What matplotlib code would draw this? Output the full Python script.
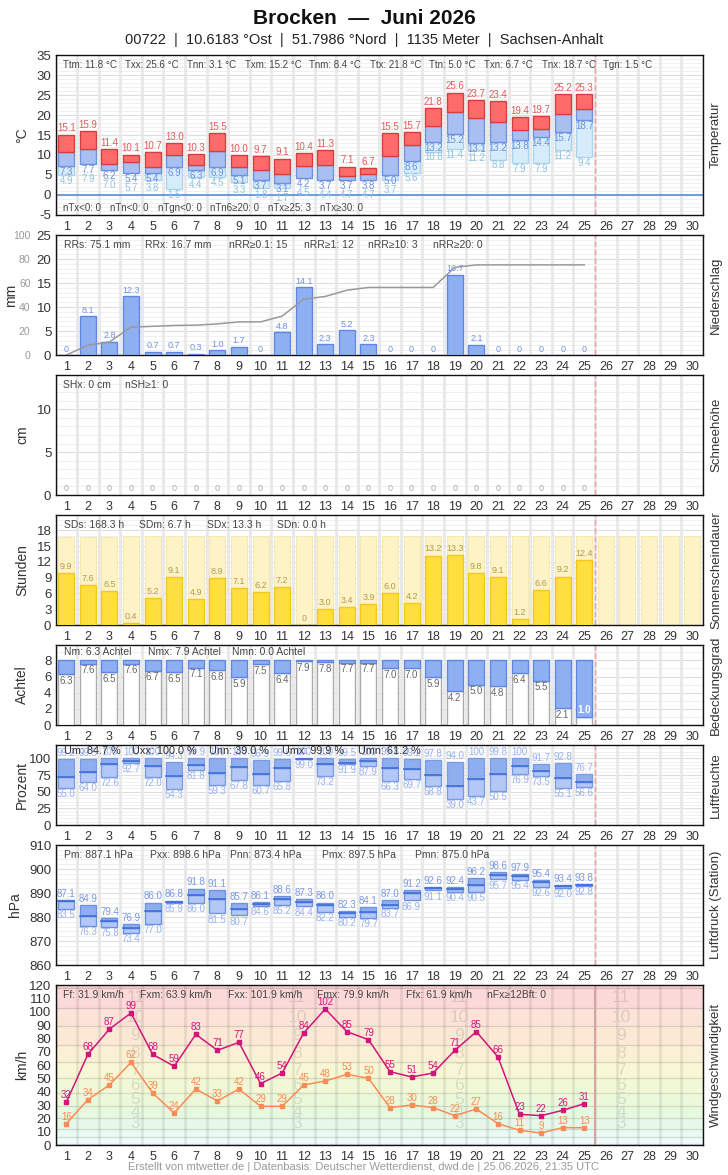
import numpy as np
import matplotlib
matplotlib.use("Agg")
import matplotlib.pyplot as plt
from matplotlib.colors import to_rgb

plt.rcParams['font.family'] = ['Liberation Sans', 'DejaVu Sans']
plt.rcParams['axes.unicode_minus'] = False

# ---------------- data ----------------
days = list(range(1, 26))
all_days = list(range(1, 31))

t_max = [15.1, 15.9, 11.4, 10.1, 10.7, 13.0, 10.3, 15.5, 10.0, 9.7, 9.1, 10.4, 11.3, 7.1, 6.7,
         15.5, 15.7, 21.8, 25.6, 23.7, 23.4, 19.4, 19.7, 25.2, 25.3]
t_mean = [10.8, 11.6, 7.8, 8.3, 7.1, 10.1, 7.5, 11.1, 6.9, 6.2, 5.2, 7.3, 7.6, 4.8, 5.3,
          9.8, 12.4, 17.3, 20.8, 19.3, 18.3, 16.3, 16.6, 20.3, 21.6]
t_min = [7.3, 7.7, 6.2, 5.4, 5.4, 6.9, 6.3, 6.9, 5.1, 3.7, 3.1, 4.2, 3.7, 3.7, 3.8,
         5.0, 8.6, 13.2, 15.2, 13.1, 13.2, 13.8, 14.4, 15.7, 18.7]
t_ground = [4.9, 7.9, 7.0, 5.7, 3.8, 1.5, 4.4, 4.5, 3.3, 1.8, 1.7, 4.5, 4.4, 4.7, 4.7,
            3.7, 5.6, 10.8, 11.4, 11.2, 8.8, 7.9, 7.9, 11.2, 9.4]

precip = [0, 8.1, 2.8, 12.3, 0.7, 0.7, 0.3, 1.0, 1.7, 0, 4.8, 14.1, 2.3, 5.2, 2.3,
          0, 0, 0, 16.7, 2.1, 0, 0, 0, 0, 0]
snow = [0] * 25
sun = [9.9, 7.6, 6.5, 0.4, 5.2, 9.1, 4.9, 8.9, 7.1, 6.2, 7.2, 0, 3.0, 3.4, 3.9,
       6.0, 4.2, 13.2, 13.3, 9.8, 9.1, 1.2, 6.6, 9.2, 12.4]
sun_possible = [16.8, 16.8, 16.8, 16.9, 16.9, 16.9, 16.9, 16.9, 16.9, 16.9, 16.9, 16.9, 16.9, 16.9, 16.9,
                16.9, 16.9, 16.9, 16.9, 16.9, 16.9, 16.9, 16.9, 16.9, 16.9, 16.9, 16.9, 16.9, 16.9, 16.9]
cloud = [6.3, 7.6, 6.5, 7.6, 6.7, 6.5, 7.1, 6.8, 5.9, 7.5, 6.4, 7.9, 7.8, 7.7, 7.7,
         7.0, 7.0, 5.9, 4.2, 5.0, 4.8, 6.4, 5.5, 2.1, 1.0]
hum_max = [99.2, 99.5, 100, 100, 100, 94.3, 99.9, 100, 100, 96.9, 99.6, 100, 100, 99.5, 100,
           99.8, 99.2, 97.8, 94.0, 100, 99.8, 100, 91.7, 92.8, 76.7]
hum_mean = [71.4, 79.0, 90.8, 96.4, 88.8, 73.5, 90.3, 78.0, 87.2, 76.5, 85.7, 99.5, 91.8, 93.4, 96.4,
            85.7, 83.7, 75.0, 58.2, 68.9, 76.5, 88.8, 80.6, 70.4, 64.3]
hum_min = [55.0, 64.0, 72.6, 92.7, 72.0, 54.3, 81.8, 59.3, 67.8, 60.7, 65.8, 99.0, 73.2, 91.9, 87.9,
           66.3, 69.7, 58.8, 39.0, 43.7, 50.5, 76.9, 73.5, 55.1, 56.6]
p_max = [887.1, 884.9, 879.4, 876.9, 886.0, 886.8, 891.8, 891.1, 885.7, 886.1, 888.6, 887.3, 886.0, 882.3, 884.1,
         887.0, 891.2, 892.6, 892.4, 896.2, 898.6, 897.9, 895.4, 893.4, 893.8]
p_mean = [886.5, 880.6, 878.2, 875.4, 882.4, 886.3, 889.3, 887.6, 883.2, 885.6, 887.4, 886.2, 884.9, 881.6, 882.2,
          885.1, 890.1, 892.1, 891.5, 893.5, 897.6, 897.2, 894.6, 892.8, 893.4]
p_min = [883.5, 876.3, 875.8, 873.4, 877.0, 885.9, 886.0, 881.5, 880.7, 884.6, 885.2, 884.4, 882.2, 880.2, 879.7,
         883.7, 886.9, 891.1, 890.4, 890.5, 895.7, 895.4, 892.6, 892.0, 892.8]
wind_gust = [32, 68, 87, 99, 68, 59, 83, 71, 77, 46, 54, 84, 102, 85, 79, 55, 51, 54, 71, 85, 66, 23, 22, 26, 31]
wind_mean = [16, 34, 45, 62, 39, 24, 42, 33, 42, 29, 29, 45, 48, 53, 50, 28, 30, 28, 22, 27, 16, 11, 9, 13, 13]

bft_bounds = [0, 1, 6, 12, 20, 29, 39, 50, 62, 75, 89, 103, 118, 120]
bft_colors = ['#f2fbfd', '#eefafb', '#e9f9f3', '#e6f8ea', '#e6f8e0', '#ebf8d9', '#f1f8d7', '#f7f6d5',
              '#faf0d5', '#fbe9d6', '#fbe3d8', '#fad9d8', '#f8cfcf']

# ---------------- layout ----------------
W, H = 728, 1175
fig = plt.figure(figsize=(W / 100, H / 100), dpi=100)
fig.patch.set_facecolor('white')
XL, XR = 55.5, 703

def fx(x):
    return x / W

def fy(y):
    return 1 - y / H

def make_ax(top, bottom):
    ax = fig.add_axes([fx(XL), fy(bottom), (XR - XL) / W, (bottom - top) / H])
    ax.set_xlim(0.5, 30.5)
    ax.set_xticks(all_days)
    ax.set_xticklabels([str(d) for d in all_days], fontsize=9, color='#333333')
    ax.tick_params(axis='both', length=0, pad=4)
    ax.tick_params(axis='y', labelsize=9.5, labelcolor='#333333', pad=3)
    for s in ax.spines.values():
        s.set_color('#111111')
        s.set_linewidth(1.0)
    ax.set_axisbelow(True)
    return ax

def vgrid(ax, color='#e8e8e8', lw=2.0):
    for b in np.arange(0.5, 31, 1):
        ax.axvline(b, color=color, lw=lw, zorder=0)

def hgrid(ax, major, minor):
    for v in minor:
        ax.axhline(v, color='#f0f0f0', lw=0.7, zorder=0)
    for v in major:
        ax.axhline(v, color='#dddddd', lw=0.8, zorder=0)

def red_line(ax, solid=False):
    if solid:
        ax.axvline(25.5, color='#d9a3a3', lw=1.5, zorder=1)
    else:
        ax.axvline(25.5, color='#f0a0a0', lw=1.0, ls=(0, (4, 2)), zorder=1)

def stat(x, y, s, fs=7.5, color='#444444'):
    fig.text(fx(x), fy(y), s, fontsize=fs, color=color, va='center', ha='left')

def ylab(x, top, bottom, s):
    fig.text(fx(x), fy((top + bottom) / 2), s, rotation=90, fontsize=10, color='#333333',
             ha='center', va='center')

def rlab(top, bottom, s):
    fig.text(fx(716), fy((top + bottom) / 2), s, rotation=90, fontsize=9.5, color='#333333',
             ha='center', va='center')

BW = 0.74

# ---------------- title ----------------
fig.text(0.5, fy(18), 'Brocken  —  Juni 2026', fontsize=15, fontweight='bold', ha='center', va='center', color='#111111')
fig.text(0.5, fy(40), '00722  |  10.6183 °Ost  |  51.7986 °Nord  |  1135 Meter  |  Sachsen-Anhalt',
         fontsize=10.5, ha='center', va='center', color='#222222')

# ---------------- Temperatur ----------------
top, bot = 55, 215
ax = make_ax(top, bot)
ax.set_ylim(-5, 35)
ax.set_yticks(range(-5, 36, 5))
hgrid(ax, range(-5, 36, 5), np.arange(-5, 35, 1))
vgrid(ax)
red_line(ax)
ax.axhline(0, color='#5b8fd9', lw=1.2, zorder=1)
for d, tx, tm, tn, tg in zip(days, t_max, t_mean, t_min, t_ground):
    if tg < tn:
        ax.bar(d, tn - tg, bottom=tg, width=BW, color='#d6ecf8', edgecolor='#a9d5f0', lw=1, zorder=2)
    ax.bar(d, tm - tn, bottom=tn, width=BW, color='#a9bff2', edgecolor='#6d92e2', lw=1, zorder=3)
    ax.bar(d, tx - tm, bottom=tm, width=BW, color='#ff6b6b', edgecolor='#d33f3f', lw=1, zorder=3)
    ax.text(d, tx + 0.3, f'{tx:.1f}', ha='center', va='bottom', fontsize=7, color='#e05a5a', zorder=5)
    yb = tn - 1.5
    ax.text(d, yb, f'{tn:.1f}', ha='center', va='center', fontsize=7, color='#6f8fe0', zorder=5)
    yl = min(tg - 1.4, yb - 2.25)
    ax.text(d, yl, f'{tg:.1f}', ha='center', va='center', fontsize=7, color='#8cc4e6', zorder=5)
ylab(22, top, bot, '°C')
rlab(top, bot, 'Temperatur')
for x, s in [(63, 'Ttm: 11.8 °C'), (125, 'Txx: 25.6 °C'), (187, 'Tnn: 3.1 °C'), (245, 'Txm: 15.2 °C'),
             (309, 'Tnm: 8.4 °C'), (370, 'Ttx: 21.8 °C'), (429, 'Ttn: 5.0 °C'), (484, 'Txn: 6.7 °C'),
             (542, 'Tnx: 18.7 °C'), (603, 'Tgn: 1.5 °C')]:
    stat(x, 65, s, fs=7)
for x, s in [(63, 'nTx<0: 0'), (110, 'nTn<0: 0'), (158, 'nTgn<0: 0'), (210, 'nTn6≥20: 0'),
             (268, 'nTx≥25: 3'), (320, 'nTx≥30: 0')]:
    stat(x, 208, s, fs=7)

# ---------------- Niederschlag ----------------
top, bot = 235, 355
ax = make_ax(top, bot)
ax.set_ylim(0, 25)
ax.set_yticks(range(0, 26, 5))
hgrid(ax, range(0, 26, 5), np.arange(0, 25, 1))
vgrid(ax)
red_line(ax)
ax.bar(days, precip, width=BW, color='#8eb0f2', edgecolor='#5f86e3', lw=1, zorder=3)
for d, v in zip(days, precip):
    s = '0' if v == 0 else f'{v:.1f}'
    ax.text(d, v + 0.3, s, ha='center', va='bottom', fontsize=6.5, color='#7092e3', zorder=5)
ax2 = ax.twinx()
ax2.set_ylim(0, 100)
ax2.yaxis.set_ticks_position('left')
ax2.spines['left'].set_position(('outward', 18))
for s in ax2.spines.values():
    s.set_visible(False)
ax2.set_yticks(range(0, 101, 20))
ax2.tick_params(axis='y', length=0, labelsize=7.5, labelcolor='#999999', pad=0)
ax2.plot(days, np.cumsum(precip), color='#999999', lw=1.1, zorder=4)
ylab(11, top, bot, 'mm')
rlab(top, bot, 'Niederschlag')
for x, s in [(64, 'RRs: 75.1 mm'), (145, 'RRx: 16.7 mm'), (229, 'nRR≥0.1: 15'), (304, 'nRR≥1: 12'),
             (368, 'nRR≥10: 3'), (433, 'nRR≥20: 0')]:
    stat(x, 245, s)

# ---------------- Schneehöhe ----------------
top, bot = 375, 495
ax = make_ax(top, bot)
ax.set_ylim(0, 14)
ax.set_yticks([0, 5, 10])
hgrid(ax, [0, 5, 10], np.arange(0, 14, 1))
vgrid(ax)
red_line(ax)
for d, v in zip(days, snow):
    ax.text(d, v + 0.2, f'{v:d}', ha='center', va='bottom', fontsize=6.5, color='#aaaaaa', zorder=5)
ylab(22, top, bot, 'cm')
rlab(top, bot, 'Schneehöhe')
stat(63, 385, 'SHx: 0 cm')
stat(125, 385, 'nSH≥1: 0')

# ---------------- Sonnenscheindauer ----------------
top, bot = 515, 625
ax = make_ax(top, bot)
ax.set_ylim(0, 20.9)
ax.set_yticks(range(0, 19, 3))
hgrid(ax, range(0, 19, 3), np.arange(0, 21, 1))
vgrid(ax)
ax.bar(all_days, sun_possible, width=BW, color='#fdf3c6', edgecolor='#f8e9b0', lw=0.8, zorder=2)
red_line(ax)
ax.bar(days, sun, width=BW, color='#ffdf3d', edgecolor='#f2c81c', lw=1, zorder=3)
for d, v in zip(days, sun):
    s = '0' if v == 0 else f'{v:.1f}'
    ax.text(d, v + 0.4, s, ha='center', va='bottom', fontsize=6.5, color='#b59a4a', zorder=5)
ylab(22, top, bot, 'Stunden')
rlab(top, bot, 'Sonnenscheindauer')
for x, s in [(64, 'SDs: 168.3 h'), (139, 'SDm: 6.7 h'), (207, 'SDx: 13.3 h'), (277, 'SDn: 0.0 h')]:
    stat(x, 525, s)

# ---------------- Bedeckungsgrad ----------------
top, bot = 645, 725
ax = make_ax(top, bot)
ax.set_ylim(0, 9.9)
ax.set_yticks(range(0, 9, 2))
hgrid(ax, range(0, 9, 2), np.arange(0, 10, 1))
vgrid(ax)
red_line(ax)
for d, n in zip(days, cloud):
    ax.bar(d, n, width=BW, color='white', edgecolor='#aaaaaa', lw=1, zorder=3)
    ax.bar(d, 8 - n, bottom=n, width=BW, color='#8eb0f2', edgecolor='#5f86e3', lw=1, zorder=3)
    if n < 1.5:
        ax.text(d, n + 0.25, f'{n:.1f}', ha='center', va='bottom', fontsize=7, color='white',
                fontweight='bold', zorder=5)
    else:
        ax.text(d, n - 0.2, f'{n:.1f}', ha='center', va='top', fontsize=7, color='#666666', zorder=5)
ylab(22, top, bot, 'Achtel')
rlab(top, bot, 'Bedeckungsgrad')
for x, s in [(64, 'Nm: 6.3 Achtel'), (148, 'Nmx: 7.9 Achtel'), (232, 'Nmn: 0.0 Achtel')]:
    stat(x, 652, s)

# ---------------- Luftfeuchte ----------------
top, bot = 745, 825
ax = make_ax(top, bot)
ax.set_ylim(0, 120)
ax.set_yticks(range(0, 101, 25))
hgrid(ax, range(0, 101, 25), np.arange(0, 120, 5))
vgrid(ax)
red_line(ax)
for d, hx, hm, hn in zip(days, hum_max, hum_mean, hum_min):
    ax.bar(d, hm - hn, bottom=hn, width=BW, color='#b3c8f6', edgecolor='#7b9be6', lw=1, zorder=3)
    ax.bar(d, hx - hm, bottom=hm, width=BW, color='#8eaef0', edgecolor='#7b9be6', lw=1, zorder=3)
    ax.plot([d - BW / 2, d + BW / 2], [hm, hm], color='#3e6fd8', lw=1.2, zorder=4)
    sx = f'{hx:.0f}' if hx == 100 else f'{hx:.1f}'
    ax.text(d, hx + 1.5, sx, ha='center', va='bottom', fontsize=7, color='#9ab2f0', zorder=5)
    ax.text(d, hn - 1.5, f'{hn:.1f}', ha='center', va='top', fontsize=7, color='#9ab2f0', zorder=5)
ylab(22, top, bot, 'Prozent')
rlab(top, bot, 'Luftfeuchte')
for x, s in [(64, 'Um: 84.7 %'), (132, 'Uxx: 100.0 %'), (209, 'Unn: 39.0 %'), (282, 'Umx: 99.9 %'),
             (358, 'Umn: 61.2 %')]:
    stat(x, 751, s, fs=7.8, color='#333333')

# ---------------- Luftdruck ----------------
top, bot = 845, 965
ax = make_ax(top, bot)
ax.set_ylim(860, 910)
ax.set_yticks(range(860, 911, 10))
hgrid(ax, range(860, 911, 10), np.arange(860, 910, 2))
vgrid(ax)
red_line(ax)
for d, px, pm, pn in zip(days, p_max, p_mean, p_min):
    ax.bar(d, pm - pn, bottom=pn, width=BW, color='#b3c8f6', edgecolor='#6d92e2', lw=1, zorder=3)
    ax.bar(d, px - pm, bottom=pm, width=BW, color='#8eaef0', edgecolor='#6d92e2', lw=1, zorder=3)
    ax.plot([d - BW / 2, d + BW / 2], [pm, pm], color='#3e6fd8', lw=1.2, zorder=4)
    ax.text(d, px + 0.5, f'{px - 800:.1f}', ha='center', va='bottom', fontsize=7, color='#7b98e6', zorder=5)
    ax.text(d, pn - 0.5, f'{pn - 800:.1f}', ha='center', va='top', fontsize=7, color='#9ab2f0', zorder=5)
ylab(15, top, bot, 'hPa')
rlab(top, bot, 'Luftdruck (Station)')
for x, s in [(64, 'Pm: 887.1 hPa'), (150, 'Pxx: 898.6 hPa'), (230, 'Pnn: 873.4 hPa'),
             (322, 'Pmx: 897.5 hPa'), (415, 'Pmn: 875.0 hPa')]:
    stat(x, 855, s)

# ---------------- Wind ----------------
top, bot = 985, 1145
ax = make_ax(top, bot)
ax.set_ylim(0, 120)
ax.set_yticks(range(0, 121, 10))
for i in range(len(bft_bounds) - 1):
    lo, hi = bft_bounds[i], bft_bounds[i + 1]
    ax.axhspan(lo, hi, color=bft_colors[i], lw=0, zorder=0)
    if i > 0:
        c = np.array(to_rgb(bft_colors[i])) * 0.88
        ax.axhline(lo, color=c, lw=0.9, zorder=0.5)
for i in range(3, 12):
    lo, hi = bft_bounds[i], bft_bounds[i + 1]
    c = np.array(to_rgb(bft_colors[i])) * 0.89
    for xd in [4.2, 11.7, 19.2, 26.7]:
        ax.text(xd, (lo + hi) / 2, str(i), ha='center', va='center', fontsize=12.5, color=c, zorder=0.8)
for b in np.arange(0.5, 31, 1):
    ax.axvline(b, color='#000000', alpha=0.07, lw=2.2, zorder=0.6)
red_line(ax, solid=True)
ax.plot(days, wind_gust, color='#d4147c', lw=1.1, marker='s', ms=2.2, zorder=4)
ax.plot(days, wind_mean, color='#fb8c55', lw=1.1, marker='s', ms=2.2, zorder=4)
for d, g, m in zip(days, wind_gust, wind_mean):
    ax.text(d, g + 1.5, str(g), ha='center', va='bottom', fontsize=7, color='#d4147c', zorder=5)
    ax.text(d, m + 1.5, str(m), ha='center', va='bottom', fontsize=7, color='#fb8c55', zorder=5)
ylab(22, top, bot, 'km/h')
rlab(top, bot, 'Windgeschwindigkeit')
for x, s in [(63, 'Ff: 31.9 km/h'), (140, 'Fxm: 63.9 km/h'), (228, 'Fxx: 101.9 km/h'),
             (317, 'Fmx: 79.9 km/h'), (406, 'Ffx: 61.9 km/h'), (487, 'nFx≥12Bft: 0')]:
    stat(x, 995, s)

fig.text(0.5, fy(1167), 'Erstellt von mtwetter.de | Datenbasis: Deutscher Wetterdienst, dwd.de | 25.06.2026, 21:35 UTC',
         fontsize=8, color='#999999', ha='center', va='center')

fig.savefig('out.png', dpi=100)
